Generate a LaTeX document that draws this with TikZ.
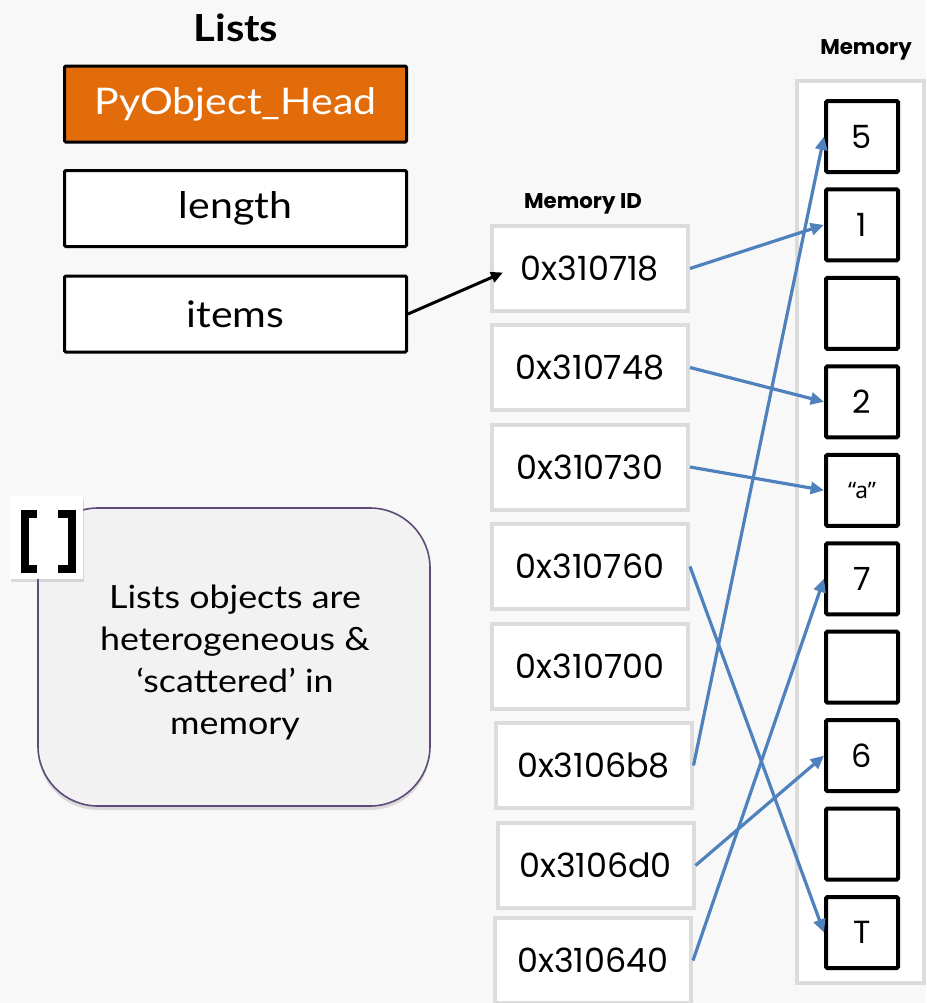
\documentclass[tikz,border=0pt]{standalone}
\usepackage{fontspec}
\setmainfont{Lato}[FakeStretch=1.12]
\newfontfamily\hexfont{Poppins}
\newfontfamily\strfont{Noto Sans}
\usetikzlibrary{arrows.meta,shadows,calc}
\definecolor{bg}{HTML}{F8F8F8}
\definecolor{headorange}{HTML}{E36C0A}
\definecolor{idgray}{HTML}{DCDCDC}
\definecolor{linkblue}{HTML}{4F81BD}
\definecolor{notefill}{HTML}{F2F2F2}
\definecolor{noteedge}{HTML}{604A7B}
\tikzset{
  field/.style={draw=black, line width=2.25pt, minimum width=256.5pt, minimum height=57pt,
    inner sep=0pt, rounded corners=1pt, font=\fontsize{27.5}{31}\selectfont},
  idbox/.style={draw=idgray, line width=3pt, fill=white, minimum width=147pt,
    minimum height=63.75pt, inner sep=0pt, font=\hexfont\fontsize{25}{29}\selectfont},
  cell/.style={draw=black, line width=3pt, fill=white, minimum width=54pt,
    minimum height=53.25pt, inner sep=0pt, rounded corners=1pt,
    font=\hexfont\fontsize{24}{28}\selectfont},
  link/.style={draw=linkblue, line width=2.4pt, -{Triangle[length=10pt,width=9pt]}},
  pointer/.style={draw=black, line width=2.25pt, -{Triangle[length=9pt,width=8pt]}},
  heading/.style={font=\hexfont\bfseries\fontsize{16}{19}\selectfont, inner sep=0pt},
}
\begin{document}
\begin{tikzpicture}[x=0.75pt,y=-0.75pt]
\useasboundingbox (0,0) rectangle (926,1003);
\fill[bg] (0,0) rectangle (926,1003);

% list object header fields
\node[font=\bfseries\fontsize{28}{32}\selectfont, inner sep=0pt] (title) at (236,28) {Lists};
\node[field, fill=headorange, text=white] (head) at (235.5,104) {PyObject\_Head};
\node[field, fill=white] (len) at (235.5,208.5) {length};
\node[field, fill=white] (items) at (235.5,314) {items};

% explanatory note with bracket icon
\node[draw=noteedge, line width=1.2pt, fill=notefill, rounded corners=45pt,
  minimum width=294pt, minimum height=223.5pt,
  drop shadow={shadow xshift=0pt, shadow yshift=-3pt, opacity=0.25}] (note) at (234,657) {};
\node[align=center, font=\fontsize{24}{31.5}\selectfont] (notetext) at (235,662)
  {Lists objects are\\heterogeneous \&\\‘scattered’ in\\memory};
\node[fill=white, minimum width=54.75pt, minimum height=62.25pt, inner sep=0pt,
  drop shadow={shadow xshift=1pt, shadow yshift=-2pt, opacity=0.25}] (icon) at (46.5,537.5) {};
\draw[line width=6pt, line join=miter] (37,513.5) -- (25,513.5) -- (25,568.5) -- (37,568.5);
\draw[line width=6pt, line join=miter] (58,513.5) -- (71.5,513.5) -- (71.5,568.5) -- (58,568.5);

% pointer table
\node[heading] (idtitle) at (583,204) {Memory ID};
\node[idbox] (id1) at (590,268.5) {0x310718};
\node[idbox] (id2) at (590,367.5) {0x310748};
\node[idbox] (id3) at (590,467) {0x310730};
\node[idbox] (id4) at (590,566.5) {0x310760};
\node[idbox] (id5) at (590,666.5) {0x310700};
\node[idbox] (id6) at (593.5,765.5) {0x3106b8};
\node[idbox] (id7) at (595.5,865.5) {0x3106d0};
\node[idbox] (id8) at (593,960.5) {0x310640};

% memory cells
\node[heading] (memtitle) at (866,50) {Memory};
\node[draw=idgray, line width=3pt, fill=white, minimum width=95.25pt, minimum height=676.5pt,
  inner sep=0pt] (memcol) at (860.5,532) {};
\foreach \i/\v in {0/5,1/1,2/,3/2,5/7,6/,7/6,8/,9/T}{
  \node[cell] (m\i) at (862,{136.5+88.45*\i}) {\v};
}
\node[cell, font=\strfont\fontsize{17}{20}\selectfont] (m4) at (862,{136.5+88.45*4}) {“a”};

% references
\coordinate (itemsend) at ($(id1.west)+(13,4)$);
\draw[pointer] (items.east) -- (itemsend);
\draw[link] (id1.east) -- (m1.west);
\draw[link] (id2.east) -- (m3.west);
\draw[link] (id3.east) -- (m4.west);
\draw[link] (id4.east) -- (m9.west);
\draw[link] (id6.east) -- (m0.west);
\draw[link] (id7.east) -- (m7.west);
\draw[link] (id8.east) -- (m5.west);
\end{tikzpicture}
\end{document}
